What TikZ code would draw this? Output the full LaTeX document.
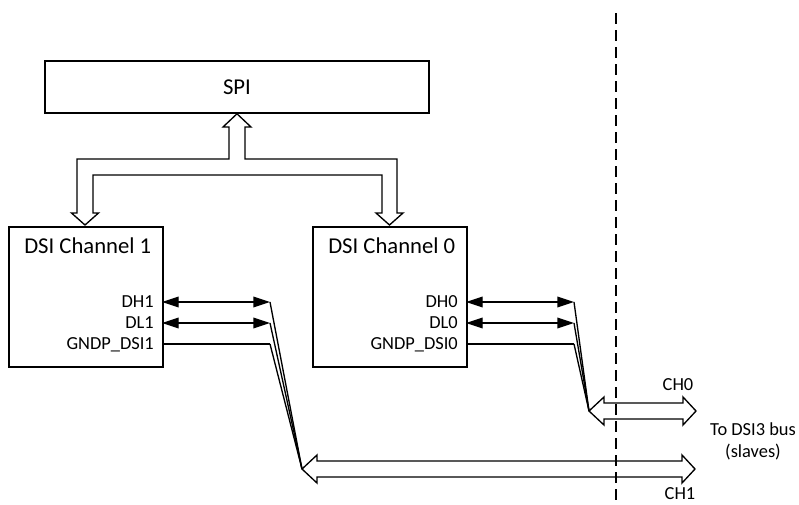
\documentclass[tikz,border=0pt]{standalone}
\usepackage{fontspec}
\setmainfont{Carlito}
\usetikzlibrary{arrows.meta}

\tikzset{
  blockbox/.style={draw, line width=1.2pt, rectangle, inner sep=0pt,
    minimum width=115.5pt, minimum height=105pt, anchor=north west},
  spibox/.style={draw, line width=1.2pt, rectangle, inner sep=0pt,
    minimum width=288pt, minimum height=39pt, font=\fontsize{17}{19}\selectfont},
  titletext/.style={inner sep=0pt, anchor=base west, font=\fontsize{17}{19}\selectfont},
  pintext/.style={inner sep=0pt, anchor=base east, font=\fontsize{13.8}{16}\selectfont},
  bustext/.style={inner sep=0pt, align=center, font=\fontsize{13.8}{16.5}\selectfont},
  wire/.style={line width=1pt},
  pinarrow/.style={wire, {Triangle[length=12.5pt,width=8pt]}-{Triangle[length=12.5pt,width=8pt]}},
  hollow/.style={draw, fill=white, line width=1pt, line join=miter},
  sidedash/.style={line width=2pt, dash pattern=on 8.25pt off 4.5pt}
}

\begin{document}
\begin{tikzpicture}[x=0.75pt, y=-0.75pt]
  \useasboundingbox (0,0) rectangle (799,504);

  \node[spibox] (spi) at (237,87) {SPI};

  % bus ends towards the slaves
  \coordinate (bus0) at (589,411);
  \coordinate (bus1) at (302,469);

  \foreach \ch/\x in {1/8, 0/312}{
      \node[blockbox] (ch\ch) at (\x,226) {};
      \node[titletext] (ch\ch title) at (\x+16,253) {DSI Channel \ch};
      \coordinate (dh\ch) at (\x+154,302);
      \coordinate (dl\ch) at (\x+154,323);
      \coordinate (gnd\ch) at (\x+154,344);
      \coordinate (dh\ch e) at (\x+262,302);
      \coordinate (dl\ch e) at (\x+262,323);
      \coordinate (gnd\ch e) at (\x+262,344);
      \node[pintext] (dh\ch lbl) at (\x+146,307) {DH\ch};
      \node[pintext] (dl\ch lbl) at (\x+146,328) {DL\ch};
      \node[pintext] (gnd\ch lbl) at (\x+146,349) {GNDP\_DSI\ch};
    }

  % SPI to both channels
  \draw[hollow] (spi.south) -- (251,127) -- (245,127) -- (245,159) -- (397,159)
    -- (397,213) -- (403,213) -- (389.5,225) -- (376,213) -- (382,213) -- (382,175)
    -- (93,175) -- (93,213) -- (98.5,213) -- (85,225) -- (71.5,213) -- (77,213)
    -- (77,159) -- (229,159) -- (229,127) -- (223,127) -- cycle;

  % CH0 and CH1
  \foreach \n/\xa/\xb/\y in {0/589/696/411, 1/302/695/469}{
      \draw[hollow] (bus\n) -- ++(15,-14) -- ++(0,6) -- (\xb-13,\y-8) -- ++(0,-6)
        -- (\xb,\y) -- ++(-13,14) -- ++(0,-6) -- (\xa+15,\y+8) -- ++(0,6) -- cycle;
    }

  \foreach \ch in {0,1}{
      \draw[pinarrow] (dh\ch) -- (dh\ch e);
      \draw[pinarrow] (dl\ch) -- (dl\ch e);
      \draw[wire] (gnd\ch) -- (gnd\ch e);
      \draw[wire] (dh\ch e) -- (bus\ch);
      \draw[wire] (dl\ch e) -- (bus\ch);
      \draw[wire] (gnd\ch e) -- (bus\ch);
    }

  \draw[sidedash] (616,13) -- (616,504);

  \node[bustext] (ch0lbl) at (678,385) {CH0};
  \node[bustext] (ch1lbl) at (680,494) {CH1};
  \node[bustext] (slaves) at (753,441) {To DSI3 bus\\(slaves)};
\end{tikzpicture}
\end{document}
